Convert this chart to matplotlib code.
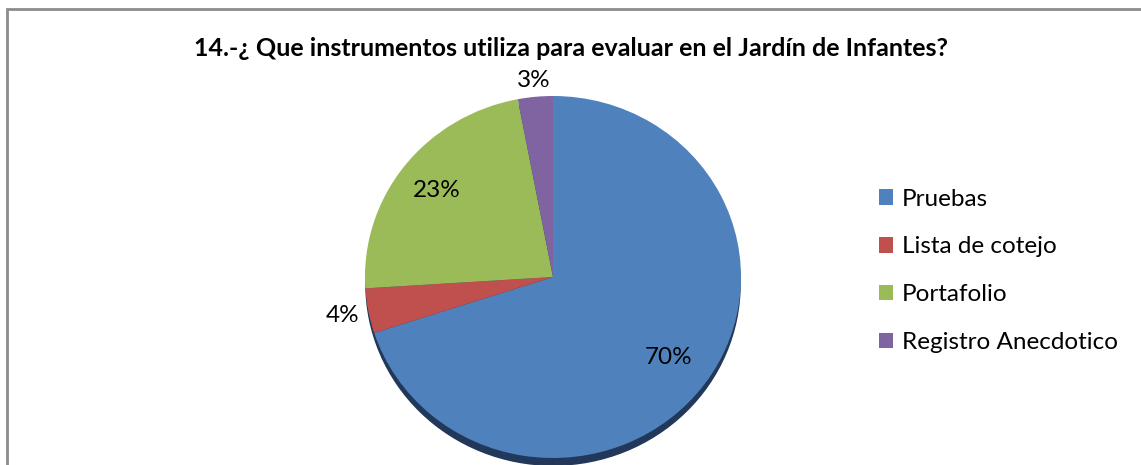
import numpy as np
import matplotlib
matplotlib.use("Agg")
import matplotlib.pyplot as plt
from matplotlib.patches import Ellipse, Rectangle

# data
categories = ["Pruebas", "Lista de cotejo", "Portafolio", "Registro Anecdotico"]
values = [70, 4, 23, 3]
colors = ["#4F81BD", "#C0504D", "#9BBB59", "#8064A2"]
title = "14.-¿ Que instrumentos utiliza para evaluar en el Jardín de Infantes?"

plt.rcParams['font.family'] = ['Lato', 'DejaVu Sans']

W, H = 1141, 465
fig = plt.figure(figsize=(W / 100, H / 100), dpi=100)

# pie centre / radii in pixels
cx, cy, rx, ry = 553, 277, 188, 181
ax = fig.add_axes([(cx - 1.25 * rx) / W, (H - cy - 1.25 * ry) / H,
                   2.5 * rx / W, 2.5 * ry / H])

# dark shadow under the pie
ax.add_patch(Ellipse((0.0, -0.04), 1.99, 2.0, color="#22385a", zorder=0))

wedges, _ = ax.pie(values, colors=colors, startangle=90, counterclock=False,
                   wedgeprops=dict(linewidth=0))
for w in wedges:
    w.set_zorder(2)

ax.set_aspect('auto')
ax.set_xlim(-1.25, 1.25)
ax.set_ylim(-1.25, 1.25)
ax.axis('off')

# percentage labels, some inside, small ones outside
dist = [0.76, 1.14, 0.78, 1.09]
for w, v, d in zip(wedges, values, dist):
    ang = np.deg2rad((w.theta1 + w.theta2) / 2)
    ax.text(d * np.cos(ang), d * np.sin(ang), f"{v}%", ha='center', va='center',
            fontsize=17.5, color='black', zorder=5)

fig.text(0.5, 1 - 48 / H, title, ha='center', va='center', fontsize=18,
         fontweight='bold')

leg = fig.legend(wedges, categories, loc='upper left',
                 bbox_to_anchor=(869 / W, 1 - 179 / H), frameon=False,
                 fontsize=17.5, handlelength=0.6, handleheight=0.6,
                 handletextpad=0.35, labelspacing=1.1, borderaxespad=0)

# outer frame (right and bottom edges are cut off in the source)
fig.patches.append(Rectangle((7 / W, -0.1), 1.2, (H - 9) / H + 0.1,
                             transform=fig.transFigure, fill=False,
                             edgecolor="#8c8c8c", linewidth=2))

fig.savefig("out.png", dpi=100)
